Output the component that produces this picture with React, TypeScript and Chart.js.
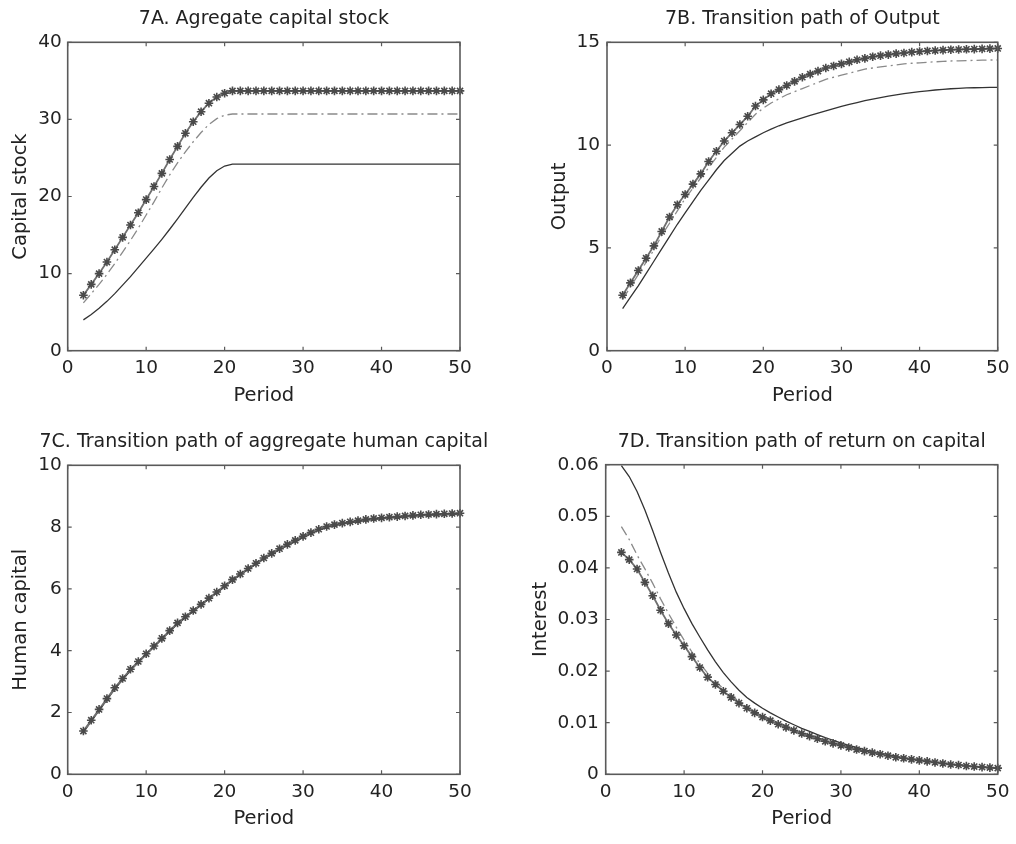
import React, { useEffect, useRef } from "react";
import { Chart, registerables } from "chart.js";

Chart.register(...registerables);

const FONT = "'DejaVu Sans', 'Liberation Sans', sans-serif";
const TEXT = "#222";

const periods = [2, 3, 4, 5, 6, 7, 8, 9, 10, 11, 12, 13, 14, 15, 16, 17, 18, 19, 20, 21, 22, 23, 24, 25, 26, 27, 28, 29, 30, 31, 32, 33, 34, 35, 36, 37, 38, 39, 40, 41, 42, 43, 44, 45, 46, 47, 48, 49, 50];
const xTicks = [0, 10, 20, 30, 40, 50];

// 7A. Aggregate capital stock
const capitalSolid = [4.0, 4.7, 5.5, 6.4, 7.4, 8.5, 9.6, 10.8, 12.0, 13.2, 14.45, 15.75, 17.1, 18.5, 19.9, 21.2, 22.4, 23.35, 23.95, 24.2, 24.2, 24.2, 24.2, 24.2, 24.2, 24.2, 24.2, 24.2, 24.2, 24.2, 24.2, 24.2, 24.2, 24.2, 24.2, 24.2, 24.2, 24.2, 24.2, 24.2, 24.2, 24.2, 24.2, 24.2, 24.2, 24.2, 24.2, 24.2, 24.2];
const capitalDash = [6.2, 7.4, 8.6, 9.9, 11.3, 12.8, 14.3, 15.9, 17.6, 19.3, 21.1, 22.8, 24.35, 25.8, 27.1, 28.3, 29.35, 30.1, 30.55, 30.7, 30.7, 30.7, 30.7, 30.7, 30.7, 30.7, 30.7, 30.7, 30.7, 30.7, 30.7, 30.7, 30.7, 30.7, 30.7, 30.7, 30.7, 30.7, 30.7, 30.7, 30.7, 30.7, 30.7, 30.7, 30.7, 30.7, 30.7, 30.7, 30.7];
const capitalStar = [7.2, 8.6, 10.0, 11.5, 13.1, 14.7, 16.3, 17.9, 19.6, 21.3, 23.0, 24.8, 26.5, 28.2, 29.7, 31.0, 32.1, 32.9, 33.4, 33.7, 33.7, 33.7, 33.7, 33.7, 33.7, 33.7, 33.7, 33.7, 33.7, 33.7, 33.7, 33.7, 33.7, 33.7, 33.7, 33.7, 33.7, 33.7, 33.7, 33.7, 33.7, 33.7, 33.7, 33.7, 33.7, 33.7, 33.7, 33.7, 33.7];
const capitalTicks = [0, 10, 20, 30, 40];
const capitalTickLabels = ["0", "10", "20", "30", "40"];

// 7B. Output
const outputSolid = [2.05, 2.6, 3.15, 3.75, 4.35, 4.95, 5.55, 6.15, 6.7, 7.25, 7.8, 8.3, 8.8, 9.25, 9.6, 9.95, 10.2, 10.4, 10.6, 10.78, 10.94, 11.08, 11.2, 11.32, 11.44, 11.56, 11.67, 11.78, 11.88, 11.98, 12.07, 12.16, 12.24, 12.31, 12.38, 12.44, 12.5, 12.55, 12.6, 12.64, 12.68, 12.71, 12.74, 12.76, 12.78, 12.79, 12.8, 12.81, 12.81];
const outputDash = [2.5, 3.1, 3.7, 4.3, 4.9, 5.6, 6.2, 6.8, 7.4, 7.9, 8.4, 8.9, 9.4, 9.9, 10.3, 10.7, 11.1, 11.5, 11.8, 12.05, 12.25, 12.45, 12.6, 12.75, 12.9, 13.05, 13.2, 13.3, 13.4, 13.5, 13.6, 13.7, 13.75, 13.8, 13.85, 13.9, 13.95, 13.98, 14.0, 14.03, 14.05, 14.07, 14.09, 14.1, 14.11, 14.12, 14.13, 14.14, 14.14];
const outputStar = [2.7, 3.3, 3.9, 4.5, 5.1, 5.8, 6.5, 7.1, 7.6, 8.1, 8.6, 9.2, 9.7, 10.2, 10.6, 11.0, 11.4, 11.9, 12.2, 12.5, 12.7, 12.9, 13.1, 13.3, 13.45, 13.6, 13.75, 13.85, 13.95, 14.05, 14.15, 14.22, 14.3, 14.35, 14.4, 14.45, 14.48, 14.52, 14.55, 14.58, 14.6, 14.62, 14.64, 14.65, 14.66, 14.67, 14.68, 14.69, 14.7];
const outputTicks = [0, 5, 10, 15];
const outputTickLabels = ["0", "5", "10", "15"];

// 7C. Human capital
const humanSolid = [1.36, 1.71, 2.06, 2.41, 2.76, 3.06, 3.36, 3.62, 3.87, 4.12, 4.37, 4.62, 4.86, 5.07, 5.27, 5.47, 5.67, 5.87, 6.07, 6.27, 6.45, 6.63, 6.8, 6.97, 7.12, 7.27, 7.41, 7.54, 7.67, 7.79, 7.9, 7.99, 8.05, 8.1, 8.14, 8.18, 8.22, 8.25, 8.27, 8.29, 8.31, 8.33, 8.35, 8.37, 8.38, 8.39, 8.4, 8.41, 8.42];
const humanDash = [1.38, 1.73, 2.08, 2.43, 2.78, 3.08, 3.38, 3.64, 3.89, 4.14, 4.39, 4.64, 4.88, 5.09, 5.29, 5.49, 5.69, 5.89, 6.09, 6.29, 6.47, 6.65, 6.82, 6.99, 7.14, 7.29, 7.43, 7.56, 7.69, 7.81, 7.92, 8.01, 8.07, 8.12, 8.16, 8.2, 8.24, 8.27, 8.29, 8.31, 8.33, 8.35, 8.37, 8.39, 8.4, 8.41, 8.42, 8.43, 8.44];
const humanStar = [1.4, 1.75, 2.1, 2.45, 2.8, 3.1, 3.4, 3.65, 3.9, 4.15, 4.4, 4.65, 4.9, 5.1, 5.3, 5.5, 5.7, 5.9, 6.1, 6.3, 6.48, 6.66, 6.83, 7.0, 7.15, 7.3, 7.44, 7.57, 7.7, 7.82, 7.93, 8.02, 8.08, 8.13, 8.17, 8.21, 8.25, 8.28, 8.3, 8.32, 8.34, 8.36, 8.38, 8.4, 8.41, 8.42, 8.43, 8.44, 8.45];
const humanTicks = [0, 2, 4, 6, 8, 10];
const humanTickLabels = ["0", "2", "4", "6", "8", "10"];

// 7D. Return on capital
const interestSolid = [0.0598, 0.0577, 0.0548, 0.0512, 0.0472, 0.0430, 0.0390, 0.0353, 0.0321, 0.0292, 0.0266, 0.0241, 0.0218, 0.0197, 0.0179, 0.0163, 0.0149, 0.0138, 0.0128, 0.0119, 0.0111, 0.0103, 0.0096, 0.0089, 0.0083, 0.0077, 0.0071, 0.0066, 0.0061, 0.0056, 0.0052, 0.0048, 0.0044, 0.0041, 0.0038, 0.0035, 0.0032, 0.0030, 0.0028, 0.0026, 0.0024, 0.0022, 0.0020, 0.0018, 0.0017, 0.0015, 0.0014, 0.0013, 0.0012];
const interestDash = [0.0480, 0.0455, 0.0425, 0.0398, 0.0370, 0.0340, 0.0312, 0.0285, 0.0260, 0.0237, 0.0215, 0.0196, 0.0180, 0.0166, 0.0153, 0.0141, 0.0131, 0.0122, 0.0114, 0.0107, 0.0100, 0.0094, 0.0087, 0.0081, 0.0076, 0.0071, 0.0066, 0.0061, 0.0057, 0.0053, 0.0049, 0.0046, 0.0043, 0.0040, 0.0037, 0.0034, 0.0032, 0.0029, 0.0027, 0.0025, 0.0023, 0.0021, 0.0020, 0.0018, 0.0017, 0.0015, 0.0014, 0.0013, 0.0012];
const interestStar = [0.0430, 0.0416, 0.0398, 0.0372, 0.0346, 0.0318, 0.0292, 0.0270, 0.0249, 0.0228, 0.0207, 0.0188, 0.0174, 0.0161, 0.0149, 0.0138, 0.0128, 0.0119, 0.0111, 0.0104, 0.0097, 0.0091, 0.0085, 0.0079, 0.0074, 0.0069, 0.0064, 0.0060, 0.0056, 0.0052, 0.0048, 0.0045, 0.0042, 0.0039, 0.0036, 0.0033, 0.0031, 0.0029, 0.0027, 0.0025, 0.0023, 0.0021, 0.0019, 0.0018, 0.0016, 0.0015, 0.0014, 0.0013, 0.0012];
const interestTicks = [0, 0.01, 0.02, 0.03, 0.04, 0.05, 0.06];
const interestTickLabels = ["0", "0.01", "0.02", "0.03", "0.04", "0.05", "0.06"];

type Panel = {
  title: string;
  yTitle: string;
  solid: number[];
  dash: number[];
  star: number[];
  yTicks: number[];
  yLabels: string[];
  left: number;
  top: number;
  area: { L: number; T: number; R: number; B: number };
  yTitlePad: number;
  yTickPad: number;
  titleY: number;
};

const W = 508;
const H = 422;
const X_AXIS_H = 62;

const panels: Panel[] = [
  { title: "7A. Agregate capital stock", yTitle: "Capital stock", solid: capitalSolid, dash: capitalDash, star: capitalStar, yTicks: capitalTicks, yLabels: capitalTickLabels, left: 0, top: 0, area: { L: 67.7, T: 42.3, R: 460, B: 350.7 }, yTitlePad: 8.8, yTickPad: 6, titleY: 19.5 },
  { title: "7B. Transition path of Output", yTitle: "Output", solid: outputSolid, dash: outputDash, star: outputStar, yTicks: outputTicks, yLabels: outputTickLabels, left: 508, top: 0, area: { L: 99, T: 42.3, R: 490, B: 350.7 }, yTitlePad: 40, yTickPad: 7, titleY: 19.5 },
  { title: "7C. Transition path of aggregate human capital", yTitle: "Human capital", solid: humanSolid, dash: humanDash, star: humanStar, yTicks: humanTicks, yLabels: humanTickLabels, left: 0, top: 422, area: { L: 67.7, T: 43.3, R: 460, B: 352.3 }, yTitlePad: 9, yTickPad: 6, titleY: 20 },
  { title: "7D. Transition path of return on capital", yTitle: "Interest", solid: interestSolid, dash: interestDash, star: interestStar, yTicks: interestTicks, yLabels: interestTickLabels, left: 508, top: 422, area: { L: 97.7, T: 42.7, R: 490.7, B: 352.3 }, yTitlePad: 21.6, yTickPad: 7, titleY: 20 },
];

const framePlugin = {
  id: "matlabFrame",
  afterDatasetsDraw(chart: any) {
    const { ctx, chartArea } = chart;
    const { left, top, right, bottom } = chartArea;
    const xs = chart.scales.x;
    const ys = chart.scales.y;
    ctx.save();
    ctx.strokeStyle = "#5a5a5a";
    ctx.lineWidth = 1.6;
    ctx.strokeRect(left, top, right - left, bottom - top);
    ctx.lineWidth = 1.2;
    const tl = 4;
    ctx.beginPath();
    xs.ticks.forEach((t: any) => {
      const px = xs.getPixelForValue(t.value);
      ctx.moveTo(px, bottom);
      ctx.lineTo(px, bottom - tl);
      ctx.moveTo(px, top);
      ctx.lineTo(px, top + tl);
    });
    ys.ticks.forEach((t: any) => {
      const py = ys.getPixelForValue(t.value);
      ctx.moveTo(left, py);
      ctx.lineTo(left + tl, py);
      ctx.moveTo(right, py);
      ctx.lineTo(right - tl, py);
    });
    ctx.stroke();
    ctx.restore();
  },
  afterDraw(chart: any, _args: any, opts: any) {
    const { ctx, chartArea } = chart;
    ctx.save();
    ctx.fillStyle = TEXT;
    ctx.font = `19px ${FONT}`;
    ctx.textAlign = "center";
    ctx.textBaseline = "middle";
    ctx.fillText(opts.text, (chartArea.left + chartArea.right) / 2, opts.y);
    ctx.restore();
  },
};

function PanelChart({ p }: { p: Panel }) {
  const ref = useRef<HTMLCanvasElement | null>(null);
  useEffect(() => {
    if (!ref.current) return;
    const mk = (arr: number[]) => periods.map((x, i) => ({ x, y: arr[i] }));
    const chart = new Chart(ref.current, {
      type: "line",
      data: {
        datasets: [
          {
            data: mk(p.star),
            borderColor: "#707070",
            borderWidth: 1.8,
            pointStyle: "star",
            pointRadius: 4.3,
            pointBorderColor: "#4a4a4a",
            pointBorderWidth: 1.6,
            pointBackgroundColor: "#4a4a4a",
            tension: 0,
            clip: false as any,
          },
          {
            data: mk(p.dash),
            borderColor: "#8a8a8a",
            borderWidth: 1.3,
            borderDash: [10, 4, 2, 4],
            pointRadius: 0,
            tension: 0,
          },
          {
            data: mk(p.solid),
            borderColor: "#333",
            borderWidth: 1.3,
            pointRadius: 0,
            tension: 0,
          },
        ],
      },
      options: {
        animation: false,
        responsive: false,
        events: [],
        layout: {
          padding: {
            left: 0,
            top: p.area.T,
            right: W - p.area.R,
            bottom: H - p.area.B - X_AXIS_H,
          },
        },
        plugins: {
          legend: { display: false },
          tooltip: { enabled: false },
          title: { display: false },
          matlabFrame: { text: p.title, y: p.titleY },
        } as any,
        scales: {
          x: {
            type: "linear",
            min: 0,
            max: 50,
            afterBuildTicks: (s: any) => {
              s.ticks = xTicks.map((v) => ({ value: v }));
            },
            afterFit: (s: any) => {
              s.height = X_AXIS_H;
            },
            grid: { display: false, drawTicks: false },
            border: { display: false },
            ticks: {
              color: TEXT,
              font: { family: FONT, size: 18.5 },
              padding: 6.5,
              maxRotation: 0,
              autoSkip: false,
              callback: (v: any) => String(v),
            },
            title: {
              display: true,
              text: "Period",
              color: TEXT,
              font: { family: FONT, size: 19.5 },
              padding: { top: 0, bottom: 5.3 },
            },
          },
          y: {
            type: "linear",
            min: p.yTicks[0],
            max: p.yTicks[p.yTicks.length - 1],
            afterBuildTicks: (s: any) => {
              s.ticks = p.yTicks.map((v) => ({ value: v }));
            },
            afterFit: (s: any) => {
              s.width = p.area.L;
            },
            grid: { display: false, drawTicks: false },
            border: { display: false },
            ticks: {
              color: TEXT,
              font: { family: FONT, size: 18.5 },
              padding: p.yTickPad,
              autoSkip: false,
              callback: (_v: any, i: number) => p.yLabels[i],
            },
            title: {
              display: true,
              text: p.yTitle,
              color: TEXT,
              font: { family: FONT, size: 19.5 },
              padding: { top: p.yTitlePad, bottom: 0 },
            },
          },
        },
      },
      plugins: [framePlugin as any],
    });
    return () => chart.destroy();
  }, [p]);
  return (
    <canvas
      ref={ref}
      width={W}
      height={H}
      style={{ position: "absolute", left: p.left, top: p.top, width: W, height: H }}
    />
  );
}

export default function App() {
  return (
    <div style={{ position: "absolute", left: 0, top: 0, width: 1016, height: 844, background: "#fff" }}>
      {panels.map((p) => (
        <PanelChart key={p.title} p={p} />
      ))}
    </div>
  );
}
